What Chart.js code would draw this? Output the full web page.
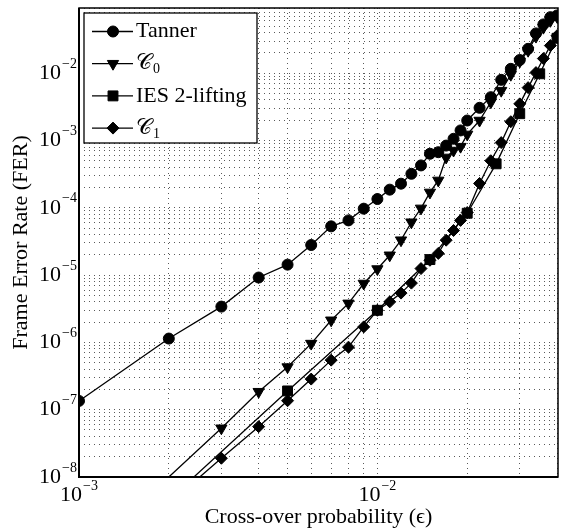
<!DOCTYPE html>
<html>
<head>
<meta charset="utf-8">
<script src="https://cdn.jsdelivr.net/npm/chart.js@4.4.1/dist/chart.umd.min.js"></script>
<style>
  html, body { margin: 0; padding: 0; background: #fff; }
  canvas { display: block; }
</style>
</head>
<body>
<canvas id="fer" width="566" height="531"></canvas>
<script>
// data
const tannerEps = [0.001, 0.002, 0.003, 0.004, 0.005, 0.006, 0.007, 0.008, 0.009, 0.010,
  0.011, 0.012, 0.013, 0.014, 0.015, 0.016, 0.017, 0.018, 0.019, 0.020,
  0.022, 0.024, 0.026, 0.028, 0.030, 0.032, 0.034, 0.036, 0.038, 0.040]
const tannerFER = [1.35e-7, 1.14e-6, 3.4e-6, 9.2e-6, 1.43e-5, 2.8e-5, 5.3e-5, 6.5e-5, 9.7e-5, 1.35e-4,
  1.86e-4, 2.28e-4, 3.2e-4, 4.26e-4, 6.35e-4, 6.7e-4, 8.4e-4, 1.06e-3, 1.41e-3, 1.98e-3,
  3.06e-3, 4.4e-3, 7.96e-3, 1.16e-2, 1.57e-2, 2.3e-2, 3.9e-2, 5.3e-2, 6.8e-2, 7.2e-2]

const c0Eps = [0.002, 0.003, 0.004, 0.005, 0.006, 0.007, 0.008, 0.009, 0.010,
  0.011, 0.012, 0.013, 0.014, 0.015, 0.016, 0.017, 0.018, 0.019, 0.020,
  0.022, 0.024, 0.026, 0.028, 0.030, 0.032, 0.034, 0.036, 0.038, 0.040]
const c0FER = [1.0e-8, 5.3e-8, 1.85e-7, 4.3e-7, 9.6e-7, 2.13e-6, 3.8e-6, 7.5e-6, 1.23e-5,
  1.97e-5, 3.3e-5, 6.1e-5, 9.8e-5, 1.69e-4, 2.55e-4, 5.6e-4, 7.1e-4, 8.1e-4, 1.23e-3,
  1.98e-3, 3.7e-3, 5.5e-3, 9.5e-3, 1.49e-2, 2.16e-2, 3.5e-2, 4.75e-2, 6.0e-2, 6.9e-2]

const iesEps = [0.001, 0.005, 0.010, 0.015, 0.020, 0.025, 0.030, 0.035, 0.040]
const iesFER = [2.7e-10, 1.9e-7, 3.0e-6, 1.7e-5, 8.3e-5, 4.5e-4, 2.5e-3, 9.8e-3, 3.3e-2]

const c1Eps = [0.002, 0.003, 0.004, 0.005, 0.006, 0.007, 0.008, 0.009, 0.010,
  0.011, 0.012, 0.013, 0.014, 0.015, 0.016, 0.017, 0.018, 0.019, 0.020,
  0.022, 0.024, 0.026, 0.028, 0.030, 0.032, 0.034, 0.036, 0.038, 0.040]
const c1FER = [4e-9, 1.9e-8, 5.6e-8, 1.36e-7, 2.85e-7, 5.45e-7, 8.5e-7, 1.7e-6, 3.0e-6,
  4.0e-6, 5.4e-6, 7.6e-6, 1.25e-5, 1.66e-5, 2.1e-5, 3.3e-5, 4.6e-5, 6.5e-5, 8.5e-5,
  2.3e-4, 5.0e-4, 9.3e-4, 1.9e-3, 3.5e-3, 6.1e-3, 1.02e-2, 1.65e-2, 2.57e-2, 3.6e-2]

// axes
const xMin = 1e-3, xMax = 0.0403
const yMin = 1e-8, yMax = 0.093
const xDecades = [1e-3, 1e-2]
const yDecades = [1e-8, 1e-7, 1e-6, 1e-5, 1e-4, 1e-3, 1e-2]
const minorSteps = [1, 2, 3, 4, 5, 6, 7, 8, 9]
const xLabelExps = [-3, -2]
const yLabelExps = [-8, -7, -6, -5, -4, -3, -2]

const serif = '"Liberation Serif", "DejaVu Serif", serif'

const gridValues = (decades, lo, hi) =>
  decades.flatMap(d => minorSteps.map(m => m * d)).filter(v => v >= lo * 0.999 && v <= hi)

const toPoints = (xs, ys) => xs.map((x, i) => ({ x, y: ys[i] }))

// hide markers that sit below the visible range
const radiusFor = r => ctx => (ctx.raw && ctx.raw.y <= yMin * 1.001) ? 0 : r

const series = [
  { label: 'Tanner', sub: '', eps: tannerEps, fer: tannerFER, pointStyle: 'circle', radius: 5.5, rotation: 0 },
  { label: '𝒞', sub: '0', eps: c0Eps, fer: c0FER, pointStyle: 'triangle', radius: 6.5, rotation: 180 },
  { label: 'IES 2-lifting', sub: '', eps: iesEps, fer: iesFER, pointStyle: 'rect', radius: 7, rotation: 0 },
  { label: '𝒞', sub: '1', eps: c1Eps, fer: c1FER, pointStyle: 'rectRot', radius: 6, rotation: 0 },
]

const datasets = series.map(s => ({
  label: s.label + s.sub,
  data: toPoints(s.eps, s.fer),
  borderColor: '#000',
  backgroundColor: '#000',
  borderWidth: 1.3,
  pointStyle: s.pointStyle,
  pointRotation: s.rotation,
  pointRadius: radiusFor(s.radius),
  pointBorderWidth: 1,
  pointBackgroundColor: '#000',
  pointBorderColor: '#000',
  tension: 0,
}))

// "10" with a superscript exponent
function drawPow(ctx, px, py, exp, align) {
  const base = '10'
  const sup = '\u2212' + Math.abs(exp)
  ctx.font = '22px ' + serif
  const wb = ctx.measureText(base).width
  ctx.font = '14px ' + serif
  const ws = ctx.measureText(sup).width
  const w = wb + ws + 1
  const x0 = align === 'center' ? px - w / 2 : px - w
  ctx.fillStyle = '#000'
  ctx.textAlign = 'left'
  ctx.textBaseline = 'middle'
  ctx.font = '22px ' + serif
  ctx.fillText(base, x0, py)
  ctx.font = '14px ' + serif
  ctx.fillText(sup, x0 + wb + 1, py - 9)
}

const labelsPlugin = {
  id: 'powLabels',
  afterDraw(chart) {
    const { ctx, scales: { x, y } } = chart
    ctx.save()
    xLabelExps.forEach(e => drawPow(ctx, x.getPixelForValue(Math.pow(10, e)), 495, e, 'center'))
    yLabelExps.forEach(e => drawPow(ctx, 77, y.getPixelForValue(Math.pow(10, e)), e, 'right'))
    ctx.restore()
  }
}

const framePlugin = {
  id: 'frame',
  afterDatasetsDraw(chart) {
    const { ctx, chartArea: a } = chart
    ctx.save()
    ctx.strokeStyle = '#000'
    ctx.lineWidth = 1.5
    ctx.strokeRect(a.left, a.top, a.right - a.left, a.bottom - a.top)
    ctx.lineWidth = 2
    ctx.beginPath()
    ctx.moveTo(a.left, a.top)
    ctx.lineTo(a.left, a.bottom)
    ctx.lineTo(a.right, a.bottom)
    ctx.stroke()
    ctx.restore()
  }
}

const legendPlugin = {
  id: 'insideLegend',
  afterDraw(chart) {
    const { ctx } = chart
    const box = { left: 84, top: 13, right: 257, bottom: 143 }
    ctx.save()
    ctx.fillStyle = '#fff'
    ctx.fillRect(box.left, box.top, box.right - box.left, box.bottom - box.top)
    ctx.strokeStyle = '#000'
    ctx.lineWidth = 1.3
    ctx.strokeRect(box.left, box.top, box.right - box.left, box.bottom - box.top)
    series.forEach((s, i) => {
      const yy = 31.5 + i * 32.2
      ctx.strokeStyle = '#000'
      ctx.lineWidth = 1.3
      ctx.beginPath()
      ctx.moveTo(92, yy)
      ctx.lineTo(133, yy)
      ctx.stroke()
      ctx.fillStyle = '#000'
      ctx.lineWidth = 1
      Chart.helpers.drawPoint(ctx, { pointStyle: s.pointStyle, radius: s.radius, rotation: s.rotation, borderWidth: 1 }, 113, yy)
      ctx.fillStyle = '#000'
      ctx.textAlign = 'left'
      ctx.textBaseline = 'middle'
      ctx.font = '22px ' + serif
      ctx.fillText(s.label, 136, yy)
      if (s.sub) {
        const w = ctx.measureText(s.label).width
        ctx.font = '14px ' + serif
        ctx.fillText(s.sub, 136 + w + 1, yy + 6)
      }
    })
    ctx.restore()
  }
}

const gridOpts = { color: '#5a5a5a', lineWidth: 1, drawTicks: false }
const borderOpts = { display: false, dash: [1, 4] }

new Chart(document.getElementById('fer'), {
  type: 'line',
  data: { datasets },
  options: {
    responsive: false,
    animation: false,
    layout: { padding: { top: 7, right: 5, left: 0, bottom: 0 } },
    plugins: { legend: { display: false }, tooltip: { enabled: false } },
    scales: {
      x: {
        type: 'logarithmic',
        position: 'bottom',
        min: xMin,
        max: xMax,
        grid: gridOpts,
        border: borderOpts,
        ticks: { display: false },
        afterBuildTicks: s => { s.ticks = gridValues(xDecades, xMin, xMax).map(v => ({ value: v })) },
        afterFit: s => { s.height = 54 },
        title: {
          display: true,
          text: 'Cross-over probability (ϵ)',
          color: '#000',
          font: { family: serif, size: 22 },
          padding: { top: 0, bottom: 1 },
        },
      },
      y: {
        type: 'logarithmic',
        position: 'left',
        min: yMin,
        max: yMax,
        grid: gridOpts,
        border: borderOpts,
        ticks: { display: false },
        afterBuildTicks: s => { s.ticks = gridValues(yDecades, yMin, yMax).map(v => ({ value: v })) },
        afterFit: s => { s.width = 79 },
        title: {
          display: true,
          text: 'Frame Error Rate (FER)',
          color: '#000',
          font: { family: serif, size: 22 },
          padding: { top: 8, bottom: 0 },
        },
      },
    },
  },
  plugins: [framePlugin, labelsPlugin, legendPlugin],
})
</script>
</body>
</html>
